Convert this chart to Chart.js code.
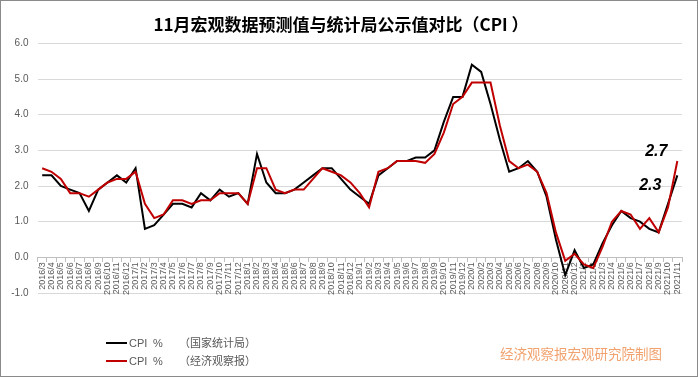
<!DOCTYPE html>
<html>
<head>
<meta charset="utf-8">
<script src="https://cdn.jsdelivr.net/npm/chart.js@4"></script>
<style>
  body { margin: 0; background: #fff; }
  #wrap { position: relative; width: 698px; height: 377px; }
  #frame { position: absolute; left: 0; top: 0; width: 698px; height: 377px; box-sizing: border-box; border: 1px solid #8a8a8a; pointer-events: none; }
  .leg { position: absolute; left: 106px; font: 11px "Liberation Sans", "Noto Sans CJK SC", sans-serif; color: #595959; height: 14px; line-height: 14px; }
  .leg i { position: absolute; left: 0; top: 6px; width: 21px; height: 2px; }
  .leg span { position: absolute; white-space: nowrap; }
  #mark { position: absolute; left: 500px; top: 343px; font: 13.5px "Noto Sans CJK SC", serif; color: #f2a26e; white-space: nowrap; }
</style>
</head>
<body>
<div id="wrap">
  <canvas id="cpiChart" width="698" height="377"></canvas>
  <div class="leg" style="top:336px"><i style="background:#000"></i><span style="left:23px">CPI</span><span style="left:47px">%</span><span style="left:73px">（国家统计局）</span></div>
  <div class="leg" style="top:354px"><i style="background:#c00000"></i><span style="left:23px">CPI</span><span style="left:47px">%</span><span style="left:73px">（经济观察报）</span></div>
  <div id="mark">经济观察报宏观研究院制图</div>
  <div id="frame"></div>
</div>
<script>
const months = [
  "2016/3","2016/4","2016/5","2016/6","2016/7","2016/8","2016/9","2016/10","2016/11","2016/12",
  "2017/1","2017/2","2017/3","2017/4","2017/5","2017/6","2017/7","2017/8","2017/9","2017/10","2017/11","2017/12",
  "2018/1","2018/2","2018/3","2018/4","2018/5","2018/6","2018/7","2018/8","2018/9","2018/10","2018/11","2018/12",
  "2019/1","2019/2","2019/3","2019/4","2019/5","2019/6","2019/7","2019/8","2019/9","2019/10","2019/11","2019/12",
  "2020/1","2020/2","2020/3","2020/4","2020/5","2020/6","2020/7","2020/8","2020/9","2020/10","2020/11","2020/12",
  "2021/1","2021/2","2021/3","2021/4","2021/5","2021/6","2021/7","2021/8","2021/9","2021/10","2021/11"
];

// 国家统计局公布值
const cpiOfficial = [
  2.3, 2.3, 2.0, 1.9, 1.8, 1.3, 1.9, 2.1, 2.3, 2.1,
  2.5, 0.8, 0.9, 1.2, 1.5, 1.5, 1.4, 1.8, 1.6, 1.9, 1.7, 1.8,
  1.5, 2.9, 2.1, 1.8, 1.8, 1.9, 2.1, 2.3, 2.5, 2.5, 2.2, 1.9,
  1.7, 1.5, 2.3, 2.5, 2.7, 2.7, 2.8, 2.8, 3.0, 3.8, 4.5, 4.5,
  5.4, 5.2, 4.3, 3.3, 2.4, 2.5, 2.7, 2.4, 1.7, 0.5, -0.5, 0.2,
  -0.3, -0.2, 0.4, 0.9, 1.3, 1.1, 1.0, 0.8, 0.7, 1.5, 2.3
];

// 经济观察报预测值
const cpiForecast = [
  2.5, 2.4, 2.2, 1.8, 1.8, 1.7, 1.9, 2.1, 2.2, 2.2,
  2.4, 1.5, 1.1, 1.2, 1.6, 1.6, 1.5, 1.6, 1.6, 1.8, 1.8, 1.8,
  1.5, 2.5, 2.5, 1.9, 1.8, 1.9, 1.9, 2.2, 2.5, 2.4, 2.3, 2.1,
  1.8, 1.4, 2.4, 2.5, 2.7, 2.7, 2.7, 2.65, 2.9, 3.5, 4.3, 4.5,
  4.9, 4.9, 4.9, 3.7, 2.7, 2.5, 2.6, 2.4, 1.8, 0.7, -0.1, 0.1,
  -0.2, -0.3, 0.3, 1.0, 1.3, 1.2, 0.8, 1.1, 0.7, 1.4, 2.7
];

const yTicks = [-1, 0, 1, 2, 3, 4, 5, 6];

// 最新一期数值标注
const lastLabels = {
  id: "lastLabels",
  afterDatasetsDraw(chart) {
    const x = chart.scales.x, y = chart.scales.y;
    const i = months.length - 1;
    const ctx = chart.ctx;
    ctx.save();
    ctx.font = "italic bold 16px 'Liberation Sans', sans-serif";
    ctx.fillStyle = "#000";
    ctx.textAlign = "center";
    ctx.textBaseline = "middle";
    ctx.fillText(cpiForecast[i].toFixed(1), x.getPixelForValue(i) - 21, y.getPixelForValue(cpiForecast[i]) - 9);
    ctx.fillText(cpiOfficial[i].toFixed(1), x.getPixelForValue(i) - 27, y.getPixelForValue(cpiOfficial[i]) + 10);
    ctx.restore();
  }
};

new Chart(document.getElementById("cpiChart"), {
  type: "line",
  data: {
    labels: months,
    datasets: [
      { label: "CPI % （国家统计局）", data: cpiOfficial, borderColor: "#000", borderWidth: 2, pointRadius: 0, tension: 0, order: 2 },
      { label: "CPI % （经济观察报）", data: cpiForecast, borderColor: "#c00000", borderWidth: 2, pointRadius: 0, tension: 0, order: 1 }
    ]
  },
  options: {
    responsive: false,
    animation: false,
    layout: { padding: { left: 0, right: 16, top: 0, bottom: 84 } },
    plugins: {
      legend: { display: false },
      tooltip: { enabled: false },
      title: {
        display: true,
        text: "11月宏观数据预测值与统计局公示值对比（CPI ）",
        color: "#000",
        font: { family: "'Noto Sans CJK SC', sans-serif", size: 17, weight: "bold" },
        padding: { top: 14, bottom: 9 }
      }
    },
    scales: {
      x: {
        position: { y: 0 },
        offset: true,
        grid: { offset: true, drawOnChartArea: false, drawTicks: true, tickLength: 4, color: "#bfbfbf" },
        border: { display: true, color: "#bfbfbf", width: 1 },
        ticks: {
          autoSkip: false, minRotation: 90, maxRotation: 90, padding: 1,
          color: "#595959", font: { family: "'Liberation Sans', sans-serif", size: 9 }
        }
      },
      y: {
        min: -1, max: 6,
        afterFit(scale) { scale.width = 37.5; },
        afterBuildTicks(scale) { scale.ticks = yTicks.map(v => ({ value: v })); },
        grid: { color: "#d9d9d9", drawTicks: false },
        border: { display: false },
        ticks: {
          padding: 9, color: "#595959",
          font: { family: "'Liberation Sans', sans-serif", size: 10 },
          callback: v => v.toFixed(1)
        }
      }
    }
  },
  plugins: [lastLabels]
});
</script>
</body>
</html>
